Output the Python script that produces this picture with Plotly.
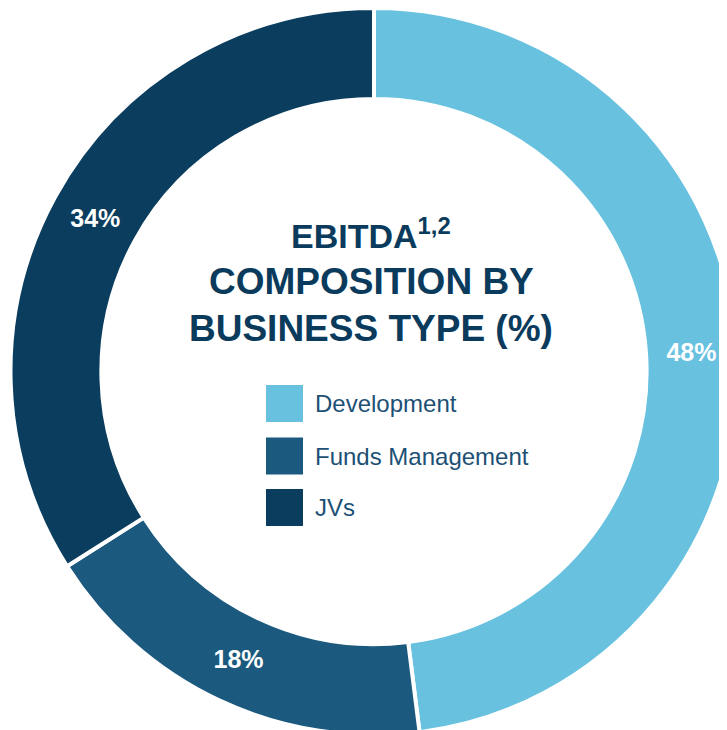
import plotly.graph_objects as go

categories = ["Development", "Funds Management", "JVs"]
values = [48, 18, 34]
colors = ["#67C1DF", "#1B597E", "#0A3D5E"]
title_lines = ["EBITDA<sup>1,2</sup>", "COMPOSITION BY", "BUSINESS TYPE (%)"]

W, H = 736, 735
OFF = 8  # page offset of the figure in the screenshot
TITLE_COLOR = "#0B3B5C"
LEGEND_TEXT = "#1D5075"

fig = go.Figure()
fig.add_trace(go.Pie(
    labels=categories,
    values=values,
    sort=False,
    direction="clockwise",
    rotation=0,
    hole=0.75,
    marker=dict(colors=colors, line=dict(color="white", width=4)),
    textinfo="percent",
    texttemplate="%{percent:.0%}",
    textposition="inside",
    insidetextorientation="horizontal",
    textfont=dict(family="Liberation Sans", size=25, color="white", weight="bold"),
    domain=dict(x=[2 / W, 730 / W], y=[1 - 727 / H, 1]),
    showlegend=False,
    hoverinfo="label+percent",
))

def px_x(x):
    return (x - OFF) / W

def px_y(y):
    return 1 - (y - OFF) / H

annotations = []
title_centers = [233, 281.5, 328.5]
title_sizes = [34, 37, 37]
for line, cy, sz in zip(title_lines, title_centers, title_sizes):
    annotations.append(dict(
        text="<b>" + line + "</b>", x=px_x(371), y=px_y(cy), xref="paper", yref="paper",
        xanchor="center", yanchor="middle", showarrow=False,
        font=dict(family="Liberation Sans", size=sz, color=TITLE_COLOR),
    ))

shapes = []
row_centers = [403.5, 456, 507.5]
for cat, col, cy in zip(categories, colors, row_centers):
    shapes.append(dict(
        type="rect", xref="paper", yref="paper",
        x0=px_x(266), x1=px_x(303), y0=px_y(cy - 18.5), y1=px_y(cy + 18.5),
        fillcolor=col, line=dict(width=0),
    ))
    annotations.append(dict(
        text=cat, x=px_x(313), y=px_y(cy), xref="paper", yref="paper",
        xanchor="left", yanchor="middle", showarrow=False,
        font=dict(family="Liberation Sans", size=24, color=LEGEND_TEXT),
    ))

fig.update_layout(
    width=W, height=H,
    margin=dict(l=0, r=0, t=0, b=0),
    paper_bgcolor="white",
    plot_bgcolor="white",
    annotations=annotations,
    shapes=shapes,
)

fig.write_html("out.html")
